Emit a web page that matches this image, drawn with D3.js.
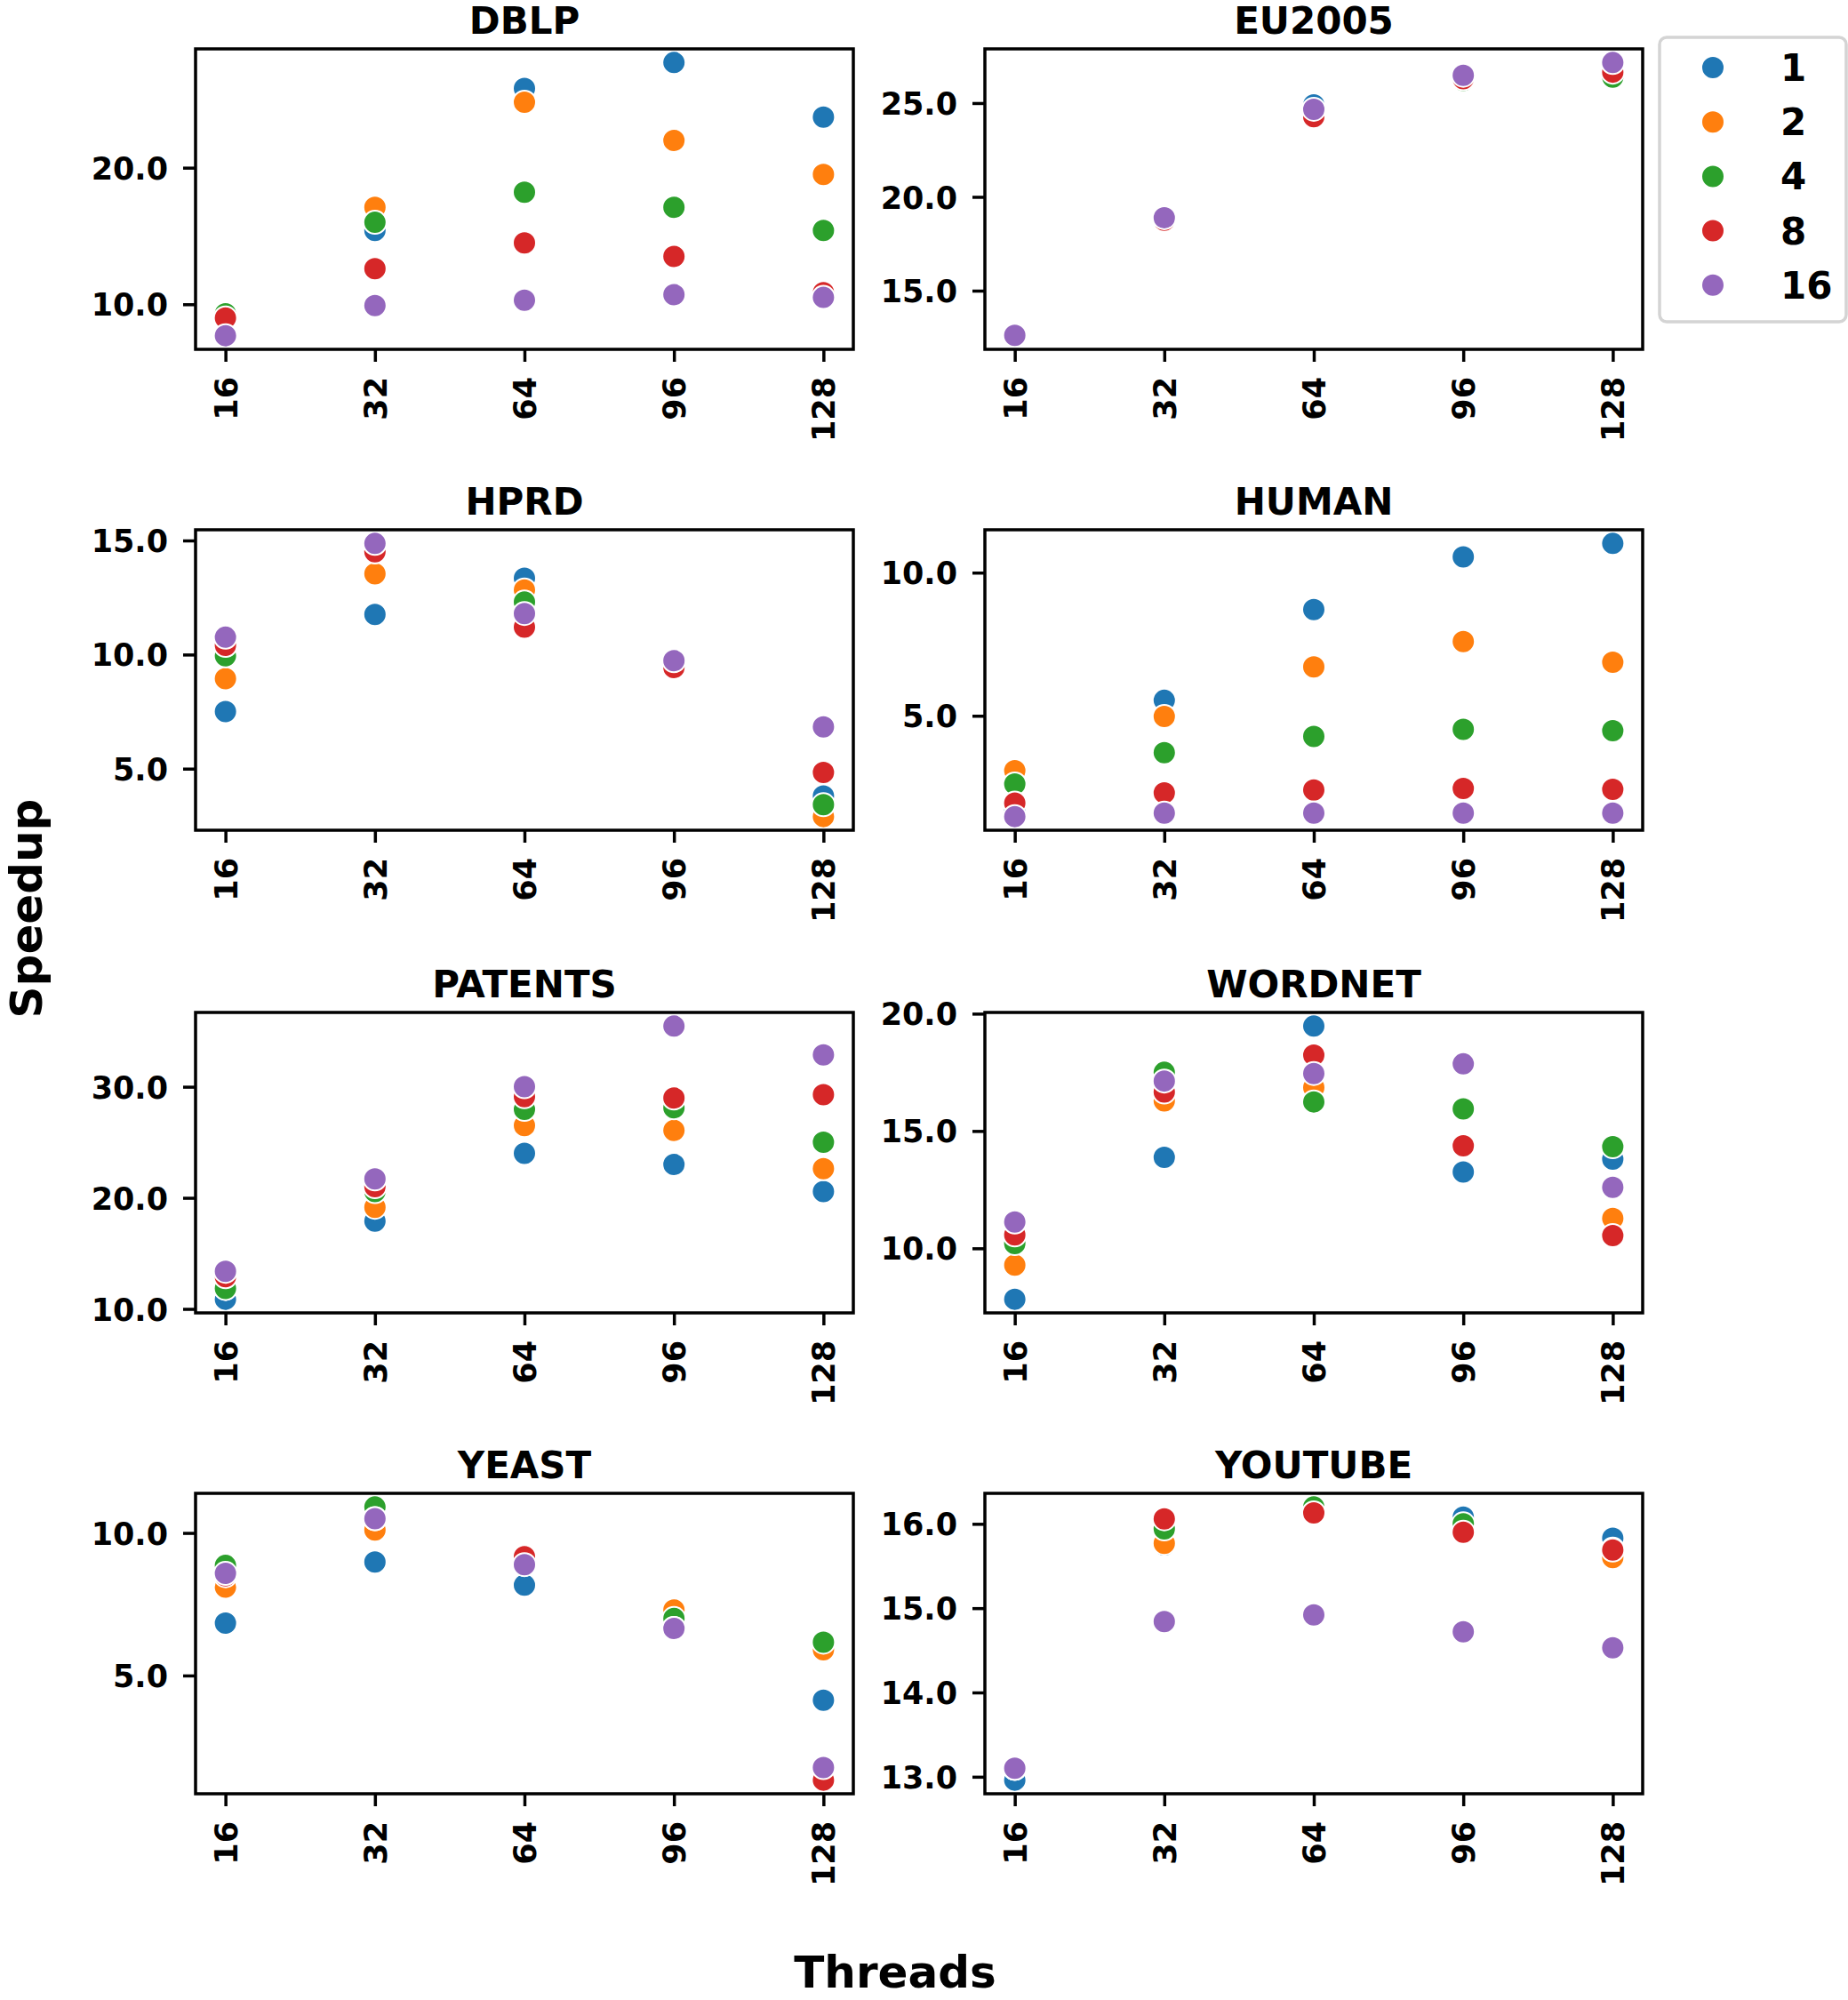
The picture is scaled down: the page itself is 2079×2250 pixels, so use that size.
<!DOCTYPE html>
<html>
<head>
<meta charset="utf-8">
<script src="https://cdn.jsdelivr.net/npm/d3@7"></script>
<style>
    body { margin: 0; background: #fff; }
    text { font-family: "DejaVu Sans", sans-serif; font-weight: bold; fill: #000; }
</style>
</head>
<body>
<svg id="chart" width="2079" height="2250"></svg>
<script>
const threads = ["16", "32", "64", "96", "128"];
const hues = ["1", "2", "4", "8", "16"];
const hueColors = ["#1f77b4", "#ff7f0e", "#2ca02c", "#d62728", "#9467bd"];
const datasets = ["DBLP", "EU2005", "HPRD", "HUMAN", "PATENTS", "WORDNET", "YEAST", "YOUTUBE"];

// one row per hue (1, 2, 4, 8, 16), one value per thread count
const dblp = [
    [9.2, 15.4, 25.8, 27.7, 23.7],
    [9.3, 17.1, 24.8, 22.0, 19.5],
    [9.3, 16.0, 18.2, 17.1, 15.4],
    [9.0, 12.6, 14.5, 13.5, 10.85],
    [7.7, 9.9, 10.3, 10.7, 10.5]
];
const eu2005 = [
    [12.6, 18.85, 24.9, 26.3, 26.6],
    [12.6, 18.85, 24.6, 26.3, 26.5],
    [12.6, 18.85, 24.5, 26.2, 26.38],
    [12.6, 18.75, 24.27, 26.3, 26.65],
    [12.62, 18.89, 24.67, 26.48, 27.16]
];
const hprd = [
    [7.5, 11.76, 13.35, 9.6, 3.8],
    [8.94, 13.54, 12.83, 9.6, 2.9],
    [9.95, 14.5, 12.3, 9.6, 3.42],
    [10.4, 14.5, 11.2, 9.43, 4.83],
    [10.76, 14.87, 11.8, 9.73, 6.83]
];
const human = [
    [1.7, 5.54, 8.71, 10.55, 11.02],
    [3.08, 4.98, 6.71, 7.59, 6.87],
    [2.62, 3.71, 4.28, 4.53, 4.48],
    [1.95, 2.31, 2.41, 2.46, 2.43],
    [1.48, 1.6, 1.6, 1.6, 1.6]
];
const patents = [
    [10.87, 17.9, 24.0, 23.0, 20.56],
    [11.85, 19.15, 26.5, 26.07, 22.62],
    [11.85, 20.56, 27.96, 28.1, 25.0],
    [12.9, 21.0, 29.1, 28.98, 29.29],
    [13.39, 21.7, 30.0, 35.46, 32.86]
];
const wordnet = [
    [7.83, 13.88, 19.47, 13.25, 13.8],
    [9.28, 16.28, 16.85, 14.35, 11.27],
    [10.2, 17.5, 16.24, 15.94, 14.33],
    [10.57, 16.66, 18.23, 14.37, 10.54],
    [11.12, 17.13, 17.45, 17.86, 12.6]
];
const yeast = [
    [6.84, 8.98, 8.17, 6.7, 4.13],
    [8.1, 10.1, 8.9, 7.3, 5.9],
    [8.86, 10.91, 8.9, 7.0, 6.17],
    [8.5, 10.5, 9.17, 6.65, 1.33],
    [8.58, 10.5, 8.89, 6.65, 1.77]
];
const youtube = [
    [12.96, 15.75, 16.15, 16.08, 15.83],
    [13.1, 15.77, 16.15, 15.95, 15.6],
    [13.1, 15.94, 16.2, 16.0, 15.7],
    [13.1, 16.06, 16.13, 15.9, 15.69],
    [13.1, 14.84, 14.92, 14.72, 14.53]
];

const dblpTicks = [10, 20];
const eu2005Ticks = [15, 20, 25];
const hprdTicks = [5, 10, 15];
const humanTicks = [5, 10];
const patentsTicks = [10, 20, 30];
const wordnetTicks = [10, 15, 20];
const yeastTicks = [5, 10];
const youtubeTicks = [13, 14, 15, 16];

const speedups = [dblp, eu2005, hprd, human, patents, wordnet, yeast, youtube];
const yTicks = [dblpTicks, eu2005Ticks, hprdTicks, humanTicks, patentsTicks, wordnetTicks, yeastTicks, youtubeTicks];

const panelW = 740;
const panelH = 338;
const colX = [220, 1108];
const rowY = [55, 596, 1139, 1680];
const radius = 13;

const svg = d3.select("#chart");

for (let i = 0; i < datasets.length; i++) {
    const g = svg.append("g")
        .attr("transform", `translate(${colX[i % 2]}, ${rowY[Math.floor(i / 2)]})`);
    const values = speedups[i];

    const xScale = d3.scalePoint()
        .domain(threads)
        .range([0, panelW])
        .padding(0.2);

    // matplotlib style 5% margins around the data
    const lo = d3.min(values, function (row) { return d3.min(row); });
    const hi = d3.max(values, function (row) { return d3.max(row); });
    const pad = (hi - lo) * 0.05;
    const yScale = d3.scaleLinear()
        .domain([lo - pad, hi + pad])
        .range([panelH, 0]);

    // y axis
    const yAxis = g.append("g")
        .call(d3.axisLeft(yScale)
            .tickValues(yTicks[i])
            .tickFormat(d3.format(".1f"))
            .tickSize(14)
            .tickPadding(17));
    yAxis.select(".domain").remove();
    yAxis.selectAll("line").attr("stroke", "#000").attr("stroke-width", 3.5);
    yAxis.selectAll("text")
        .style("font-size", "35px")
        .attr("dy", "0.36em");

    // x axis, labels turned upright
    const xAxis = g.append("g")
        .attr("transform", `translate(0, ${panelH})`)
        .call(d3.axisBottom(xScale).tickSize(14));
    xAxis.select(".domain").remove();
    xAxis.selectAll("line").attr("stroke", "#000").attr("stroke-width", 3.5);
    xAxis.selectAll("text")
        .style("font-size", "35px")
        .attr("transform", "rotate(-90)")
        .attr("text-anchor", "end")
        .attr("x", -31)
        .attr("y", 0)
        .attr("dy", "0.36em");

    // points, drawn hue by hue
    for (let h = 0; h < hues.length; h++) {
        g.append("g")
            .selectAll("circle")
            .data(values[h])
            .join("circle")
            .attr("cx", function (d, j) { return xScale(threads[j]); })
            .attr("cy", function (d) { return yScale(d); })
            .attr("r", radius)
            .attr("fill", hueColors[h])
            .attr("stroke", "#fff")
            .attr("stroke-width", 2);
    }

    // frame
    g.append("rect")
        .attr("width", panelW)
        .attr("height", panelH)
        .attr("fill", "none")
        .attr("stroke", "#000")
        .attr("stroke-width", 3.5);

    g.append("text")
        .attr("x", panelW / 2)
        .attr("y", -17)
        .attr("text-anchor", "middle")
        .style("font-size", "42px")
        .text(datasets[i]);
}

// shared axis labels
svg.append("text")
    .attr("transform", "translate(47, 1022) rotate(-90)")
    .attr("text-anchor", "middle")
    .style("font-size", "50px")
    .text("Speedup");

svg.append("text")
    .attr("x", 1007)
    .attr("y", 2236)
    .attr("text-anchor", "middle")
    .style("font-size", "50px")
    .text("Threads");

// legend
const legend = svg.append("g").attr("transform", "translate(1867, 42)");
legend.append("rect")
    .attr("width", 210)
    .attr("height", 320)
    .attr("rx", 8)
    .attr("fill", "#fff")
    .attr("stroke", "#d4d4d4")
    .attr("stroke-width", 3.5);

for (let h = 0; h < hues.length; h++) {
    const cy = 34 + h * 61.2;
    legend.append("circle")
        .attr("cx", 60)
        .attr("cy", cy)
        .attr("r", radius)
        .attr("fill", hueColors[h])
        .attr("stroke", "#fff")
        .attr("stroke-width", 2);
    legend.append("text")
        .attr("x", 136)
        .attr("y", cy + 15)
        .style("font-size", "42px")
        .text(hues[h]);
}
</script>
</body>
</html>
